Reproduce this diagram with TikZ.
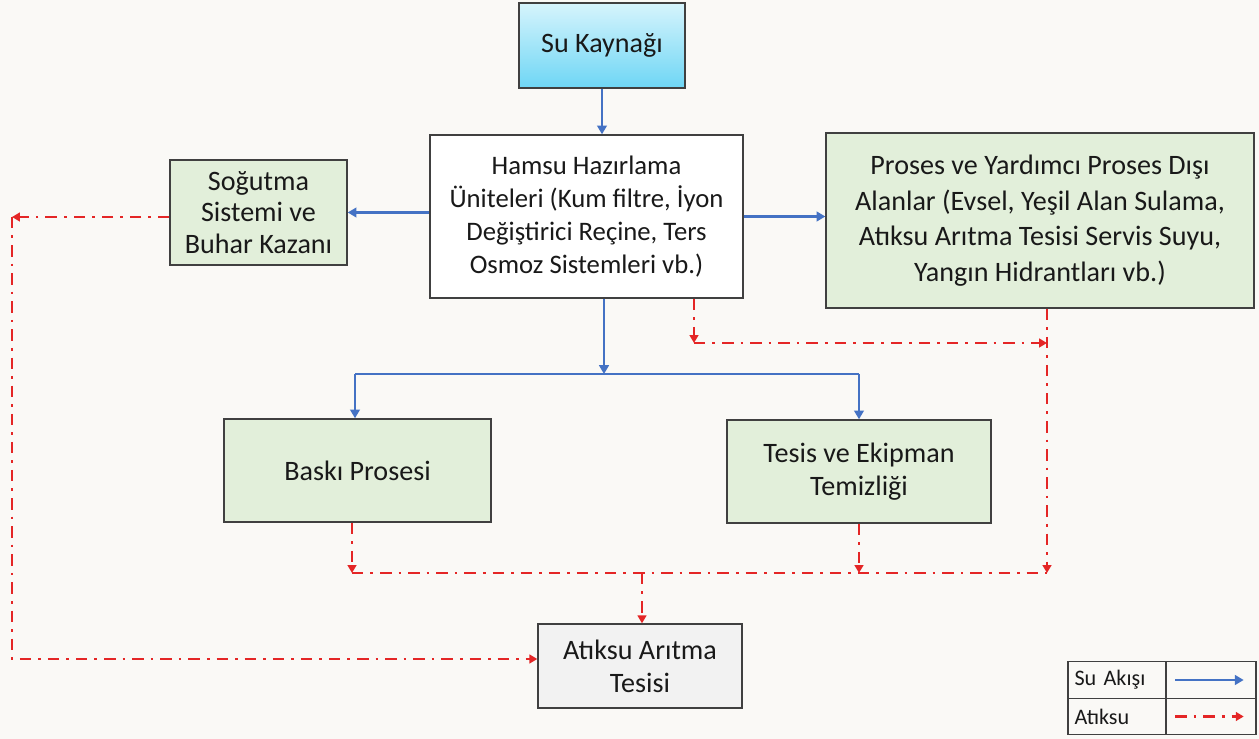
\documentclass[tikz,border=0pt]{standalone}
\usepackage{fontspec}
\setmainfont{Carlito}
\usetikzlibrary{arrows.meta}
\definecolor{flowblue}{RGB}{68,114,196}
\definecolor{wastered}{RGB}{228,38,38}
\definecolor{boxgreen}{RGB}{226,239,218}
\definecolor{boxgray}{RGB}{242,242,242}
\definecolor{bgcol}{RGB}{250,249,246}
\definecolor{edgegray}{RGB}{64,64,64}
\definecolor{cyantop}{RGB}{214,244,252}
\definecolor{cyanbot}{RGB}{110,214,245}
\tikzset{
  box/.style={draw=edgegray, line width=0.8pt, align=center, inner sep=2pt,
    font=\fontsize{16}{17.8}\selectfont, text=black!90},
  legcell/.style={draw=edgegray, line width=0.8pt, minimum height=0.73cm,
    inner xsep=0.13cm, font=\fontsize{12.6}{14}\selectfont, text=black!90},
  flow/.style={draw=flowblue, line width=1.6pt, -{Triangle[length=5pt,width=5.5pt]}},
  waste/.style={draw=wastered, line width=1.4pt,
    dash pattern=on 6.5pt off 4pt on 1.5pt off 4pt, -{Triangle[length=4.5pt,width=5pt]}},
}
\begin{document}
\begin{tikzpicture}[x=0.02cm,y=-0.02cm]

	% Draw background
	\fill[bgcol] (0,0) rectangle (1259,739);
	\useasboundingbox (0,0) rectangle (1259,739);

	% Draw boxes
	\node[box, minimum width=3.32cm, minimum height=1.70cm, top color=cyantop, bottom color=cyanbot] (kaynak) at (602,45.5) {Su Kaynağı};
	\node[box, fill=white, minimum width=6.26cm, minimum height=3.26cm, font=\fontsize{15.2}{18.7}\selectfont] (hamsu) at (586.5,216.5) {Hamsu Hazırlama\\Üniteleri (Kum filtre, İyon\\Değiştirici Reçine, Ters\\Osmoz Sistemleri vb.)};
	\node[box, fill=boxgreen, minimum width=3.54cm, minimum height=2.10cm] (sogutma) at (258.5,212.5) {Soğutma\\Sistemi ve\\Buhar Kazanı};
	\node[box, fill=boxgreen, minimum width=8.56cm, minimum height=3.50cm, font=\fontsize{16}{20.2}\selectfont] (proses) at (1040,220.5) {Proses ve Yardımcı Proses Dışı\\Alanlar (Evsel, Yeşil Alan Sulama,\\Atıksu Arıtma Tesisi Servis Suyu,\\Yangın Hidrantları vb.)};
	\node[box, fill=boxgreen, minimum width=5.34cm, minimum height=2.06cm] (baski) at (357.5,470.5) {Baskı Prosesi};
	\node[box, fill=boxgreen, minimum width=5.28cm, minimum height=2.06cm, font=\fontsize{16}{18.8}\selectfont] (tesis) at (859,471.5) {Tesis ve Ekipman\\Temizliği};
	\node[box, fill=boxgray, minimum width=4.08cm, minimum height=1.68cm, font=\fontsize{16}{18.8}\selectfont] (atik) at (640,666) {Atıksu Arıtma\\Tesisi};

	% Draw water flow
	\coordinate (split) at (604,374);
	\draw[flow] (kaynak.south) -- (kaynak.south |- hamsu.north);
	\draw[flow] (hamsu.west |- sogutma.east) -- (sogutma.east);
	\draw[flow] (hamsu.east) -- (hamsu.east -| proses.west);
	\draw[flow] (split |- hamsu.south) -- (split);
	\draw[flow,-] (355,0 |- split) -- (tesis.north |- split);
	\draw[flow] (355,0 |- split) -- (355,0 |- baski.north);
	\draw[flow] (tesis.north |- split) -- (tesis.north);

	% Draw waste water
	\coordinate (leftc) at (12,217);
	\coordinate (hamc) at (694,343);
	\coordinate (rightc) at (1047,343);
	\coordinate (collect) at (642,573);
	\draw[waste] (sogutma.west |- leftc) -- (leftc);
	\draw[waste] (leftc) -- (leftc |- 0,659) -- (atik.west |- 0,659);
	\draw[waste] (hamc |- hamsu.south) -- (hamc);
	\draw[waste] (hamc) -- (rightc);
	\draw[waste] (rightc |- proses.south) -- (rightc |- collect);
	\draw[waste] (352,0 |- baski.south) -- (352,0 |- collect);
	\draw[waste] (tesis.south) -- (tesis.south |- collect);
	\draw[waste,-] (352,0 |- collect) -- (rightc |- collect);
	\draw[waste] (collect) -- (collect |- atik.north);

	% Draw legend
	\node[legcell, minimum width=1.96cm, text width=1.7cm, align=left] (legflow) at (1117,680) {Su Akışı};
	\node[legcell, minimum width=1.8cm] (legflowarr) at (1211,680) {};
	\node[legcell, minimum width=1.96cm, text width=1.7cm, align=left] (legwaste) at (1117,716.5) {Atıksu};
	\node[legcell, minimum width=1.8cm] (legwastearr) at (1211,716.5) {};
	\draw[flow] ([xshift=0.2cm]legflowarr.west) -- ([xshift=-0.26cm]legflowarr.east);
	\draw[waste] ([xshift=0.2cm]legwastearr.west) -- ([xshift=-0.26cm]legwastearr.east);

\end{tikzpicture}
\end{document}
